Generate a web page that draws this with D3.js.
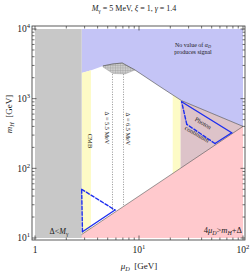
<!DOCTYPE html>
<html>
<head>
<meta charset="utf-8">
<title>Signal region</title>
<script src="https://d3js.org/d3.v7.min.js"></script>
<style>
	body { margin: 0; background: #fff; }
	text { font-family: 'Liberation Serif', 'Times New Roman', serif; fill: #1a1a1a; }
</style>
</head>
<body>
<script>
	// plot range
	var muRange = [1, 100],
			mhRange = [10, 10000];

	// vertical strips (mu_D in GeV)
	var grayMu = [1, 2.81];          // Delta < M_gamma
	var cmbMu = [2.81, 3.45];        // CMB
	var band2Mu = [21.1, 25.1];      // second yellow strip
	var photonMu = [25.1, 100];      // photon continuum

	// lower edge of "no value of alpha_D produces signal"
	var edgeMu = [2.81, 3.53, 4.5, 5.6, 6.9, 9.15, 15.9, 25.7, 100];
	var edgeMH = [2330, 2580, 2950, 3150, 3250, 2580, 1490, 935, 400];

	// 4 mu_D > m_H + Delta
	var pinkMu = [2.5, 100];
	var pinkMH = [10, 400];

	// hatched patch
	var hatchMu = [4.5, 5.6, 6.9, 9.15, 7.33, 5.6, 4.5];
	var hatchMH = [2950, 3150, 3250, 2580, 2260, 2300, 2850];

	// Delta = const lines
	var deltaMu = [5.56, 7.1];
	var deltaTop = [2250, 2250];
	var deltaBot = [25, 28.4];

	// signal contours (blue), solid[i] = edge i -> i+1 is solid
	var c1Mu = [2.81, 5.88, 2.86];
	var c1MH = [50, 25.2, 12.3];
	var c1Solid = [0, 1, 0];
	var c2Mu = [25.7, 77.9, 53.8, 28.8];
	var c2MH = [904, 324, 227, 428];
	var c2Solid = [1, 1, 0, 0];

	// tick labels
	var xLabVal = [1, 10, 100], xLabExp = ["", "1", "2"];
	var yLabVal = [10, 100, 1000, 10000], yLabExp = ["1", "2", "3", "4"];

	var W = 250, H = 272;
	var frame = {left: 32, right: 245, top: 26, bottom: 240};

	var svg = d3.select("body").append("svg")
			.attr("width", W)
			.attr("height", H);

	var x = d3.scaleLog().domain(muRange).range([35, 243]);
	var y = d3.scaleLog().domain(mhRange).range([238, 29]);

	var line = d3.line()
			.x(function(d) { return x(d[0]); })
			.y(function(d) { return y(d[1]); });

	var edge = d3.zip(edgeMu, edgeMH);

	var defs = svg.append("defs");
	defs.append("clipPath").attr("id", "plotclip")
		.append("rect")
			.attr("x", x(muRange[0]))
			.attr("y", y(mhRange[1]))
			.attr("width", x(muRange[1]) - x(muRange[0]))
			.attr("height", y(mhRange[0]) - y(mhRange[1]));

	defs.append("clipPath").attr("id", "below")
		.append("path")
			.attr("d", line(edge.concat([[muRange[1], mhRange[0]], [edgeMu[0], mhRange[0]]])) + "Z");

	var pat = defs.append("pattern")
			.attr("id", "hatch")
			.attr("patternUnits", "userSpaceOnUse")
			.attr("width", 2.5)
			.attr("height", 2.5);
	pat.append("rect").attr("width", 2.5).attr("height", 2.5).attr("fill", "#cdcdcd");
	pat.append("path").attr("d", "M0,0.25H2.5M0.25,0V2.5")
		.attr("stroke", "#999").attr("stroke-width", 0.45);

	var g = svg.append("g").attr("clip-path", "url(#plotclip)");

	// blue: no signal
	g.append("path")
		.attr("d", line(edge.concat([[muRange[1], mhRange[1]], [edgeMu[0], mhRange[1]]])) + "Z")
		.attr("fill", "#c4c4f6");

	function strip(r, color) {
		g.append("rect")
			.attr("x", x(r[0]))
			.attr("width", x(r[1]) - x(r[0]))
			.attr("y", y(mhRange[1]))
			.attr("height", y(mhRange[0]) - y(mhRange[1]))
			.attr("fill", color)
			.attr("clip-path", "url(#below)");
	}
	strip(cmbMu, "#fdfbc6");
	strip(band2Mu, "#fdfbc6");
	strip(photonMu, "#ddc3c9");

	// pink
	var pink = d3.zip(pinkMu, pinkMH);
	g.append("path")
		.attr("d", line(pink.concat([[muRange[1], mhRange[0]]])) + "Z")
		.attr("fill", "#ffc9cd");
	g.append("path")
		.attr("d", line(pink))
		.attr("fill", "none")
		.attr("stroke", "#555")
		.attr("stroke-width", 0.6);

	// gray
	g.append("rect")
		.attr("x", x(grayMu[0]))
		.attr("width", x(grayMu[1]) - x(grayMu[0]))
		.attr("y", y(mhRange[1]))
		.attr("height", y(mhRange[0]) - y(mhRange[1]))
		.attr("fill", "#c8c8c8");

	// hatched patch
	g.append("path")
		.attr("d", line(d3.zip(hatchMu, hatchMH)) + "Z")
		.attr("fill", "url(#hatch)")
		.attr("stroke", "#999")
		.attr("stroke-width", 0.4);

	// dark edge line
	g.append("path")
		.attr("d", line(edge.slice(2)))
		.attr("fill", "none")
		.attr("stroke", "#444")
		.attr("stroke-width", 0.6);

	// Delta lines
	deltaMu.forEach(function(m, i) {
		g.append("line")
			.attr("x1", x(m)).attr("x2", x(m))
			.attr("y1", y(deltaTop[i])).attr("y2", y(deltaBot[i]))
			.attr("stroke", "#777")
			.attr("stroke-width", 0.8)
			.attr("stroke-dasharray", "1,1.5");
	});

	function contour(mu, mh, solid) {
		for (var i = 0; i < mu.length; i++) {
			var j = (i + 1) % mu.length;
			g.append("line")
				.attr("x1", x(mu[i])).attr("y1", y(mh[i]))
				.attr("x2", x(mu[j])).attr("y2", y(mh[j]))
				.attr("stroke", "#1d2ef0")
				.attr("stroke-width", 1.4)
				.attr("stroke-linecap", "round")
				.attr("stroke-dasharray", solid[i] ? null : "3.5,2");
		}
	}
	contour(c1Mu, c1MH, c1Solid);
	contour(c2Mu, c2MH, c2Solid);

	// rich text helper: parts = [[text, flags]] flags: i italic, b sub, p sup
	function rich(t, parts, fs) {
		t.attr("font-size", fs);
		parts.forEach(function(p) {
			var s = t.append("tspan").text(p[0]);
			var f = p[1] || "";
			if (f.indexOf("i") >= 0) s.style("font-style", "italic");
			if (f.indexOf("b") >= 0) s.attr("font-size", fs * 0.7).attr("baseline-shift", -fs * 0.22);
			if (f.indexOf("p") >= 0) s.attr("font-size", fs * 0.7).attr("baseline-shift", fs * 0.38);
		});
		return t;
	}

	// labels in the plot
	rich(svg.append("text").attr("x", 193).attr("y", 47).attr("text-anchor", "middle"),
		[["No value of "], ["α", "i"], ["D", "bi"]], 6);
	rich(svg.append("text").attr("x", 193).attr("y", 53.5).attr("text-anchor", "middle"),
		[["produces signal"]], 6);

	rich(svg.append("text").attr("transform", "translate(88,141) rotate(90)").attr("text-anchor", "middle"),
		[["CMB"]], 6.5);
	rich(svg.append("text").attr("transform", "translate(105,128) rotate(90)").attr("text-anchor", "middle"),
		[["Δ = 5.5 MeV"]], 6.3);
	rich(svg.append("text").attr("transform", "translate(126,129) rotate(90)").attr("text-anchor", "middle"),
		[["Δ = 6.5 MeV"]], 6.3);

	rich(svg.append("text").attr("transform", "translate(202,125) rotate(30)").attr("text-anchor", "middle"),
		[["Photon"]], 6.3);
	rich(svg.append("text").attr("transform", "translate(196,136) rotate(30)").attr("text-anchor", "middle"),
		[["continuum"]], 6.3);

	rich(svg.append("text").attr("x", 59).attr("y", 234).attr("text-anchor", "middle"),
		[["Δ<"], ["M", "i"], ["γ", "b"]], 8);
	rich(svg.append("text").attr("x", 242).attr("y", 233).attr("text-anchor", "end"),
		[["4"], ["μ", "i"], ["D", "bi"], [">"], ["m", "i"], ["H", "bi"], ["+Δ"]], 8.5);

	// frame
	svg.append("rect")
		.attr("x", frame.left).attr("y", frame.top)
		.attr("width", frame.right - frame.left)
		.attr("height", frame.bottom - frame.top)
		.attr("fill", "none")
		.attr("stroke", "#333")
		.attr("stroke-width", 0.8);

	function isMajor(v) {
		var l = Math.log10(v);
		return Math.abs(l - Math.round(l)) < 1e-9;
	}

	var ticks = svg.append("g").attr("stroke", "#333").attr("stroke-width", 0.7);
	x.ticks().forEach(function(v) {
		var len = isMajor(v) ? 4.5 : 2.5;
		ticks.append("line").attr("x1", x(v)).attr("x2", x(v)).attr("y1", frame.bottom).attr("y2", frame.bottom - len);
		ticks.append("line").attr("x1", x(v)).attr("x2", x(v)).attr("y1", frame.top).attr("y2", frame.top + len);
	});
	y.ticks().forEach(function(v) {
		var len = isMajor(v) ? 4.5 : 2.5;
		ticks.append("line").attr("y1", y(v)).attr("y2", y(v)).attr("x1", frame.left).attr("x2", frame.left + len);
		ticks.append("line").attr("y1", y(v)).attr("y2", y(v)).attr("x1", frame.right).attr("x2", frame.right - len);
	});

	// tick labels
	xLabVal.forEach(function(v, i) {
		var parts = xLabExp[i] ? [["10"], [xLabExp[i], "p"]] : [["1"]];
		rich(svg.append("text").attr("x", x(v)).attr("y", 253).attr("text-anchor", "middle"), parts, 9.5);
	});
	yLabVal.forEach(function(v, i) {
		rich(svg.append("text").attr("x", 30).attr("y", y(v) + 3.3).attr("text-anchor", "end"),
			[["10"], [yLabExp[i], "p"]], 9.5);
	});

	// axis titles
	rich(svg.append("text").attr("x", 139).attr("y", 269).attr("text-anchor", "middle"),
		[["μ", "i"], ["D", "bi"], ["\u00a0\u00a0[GeV]"]], 9);
	rich(svg.append("text").attr("transform", "translate(11.5,114) rotate(-90)").attr("text-anchor", "middle"),
		[["m", "i"], ["H", "bi"], ["\u00a0\u00a0[GeV]"]], 9);

	// title
	rich(svg.append("text").attr("x", 134).attr("y", 10.5).attr("text-anchor", "middle"),
		[["M", "i"], ["γ", "b"], [" = 5 MeV, "], ["ξ", "i"], [" = 1, "], ["γ", "i"], [" = 1.4"]], 8);
</script>
</body>
</html>
